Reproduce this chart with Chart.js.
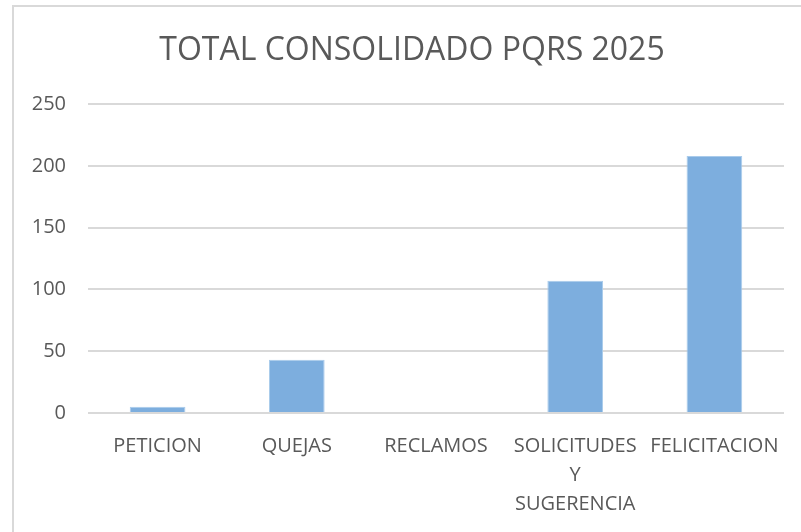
<!DOCTYPE html>
<html>
<head>
<meta charset="utf-8">
<script src="https://cdn.jsdelivr.net/npm/chart.js@4/dist/chart.umd.min.js"></script>
<style>
  html, body { margin: 0; padding: 0; background: #fff; }
  #wrap { position: relative; width: 801px; height: 532px; overflow: hidden; }
  #frame { position: absolute; left: 12px; top: 5px; width: 900px; height: 600px;
           border-left: 2px solid #d9d9d9; border-top: 2px solid #d9d9d9; box-sizing: border-box; }
  canvas { position: absolute; left: 0; top: 0; }
</style>
</head>
<body>
<div id="wrap">
  <div id="frame"></div>
  <canvas id="c" width="801" height="532"></canvas>
</div>
<script>
const titleText = 'TOTAL CONSOLIDADO PQRS 2025';
const categories = ['PETICION', 'QUEJAS', 'RECLAMOS', ['SOLICITUDES', 'Y', 'SUGERENCIA'], 'FELICITACION'];
const values = [5, 43, 0, 107, 208];
const yTicks = [0, 50, 100, 150, 200, 250];

const FONT = "'Open Sans', sans-serif";
const GREY = '#595959';

// Title drawn centred over the whole chart frame (as in the source spreadsheet chart)
const frameTitle = {
  id: 'frameTitle',
  afterDraw(chart) {
    const ctx = chart.ctx;
    ctx.save();
    ctx.font = "normal 32px " + FONT;
    ctx.fillStyle = GREY;
    ctx.textAlign = 'center';
    ctx.textBaseline = 'middle';
    ctx.fillText(titleText, 412, 51);
    ctx.restore();
  }
};

new Chart(document.getElementById('c'), {
  type: 'bar',
  data: {
    labels: categories,
    datasets: [{
      data: values,
      backgroundColor: '#7DAEDE',
      borderColor: '#A9CBEB',
      borderWidth: 1,
      barPercentage: 0.4,
      categoryPercentage: 1.0
    }]
  },
  plugins: [frameTitle],
  options: {
    responsive: false,
    animation: false,
    layout: { padding: { left: 12, right: 17, top: 104, bottom: 8 } },
    plugins: {
      legend: { display: false },
      tooltip: { enabled: false },
      title: { display: false }
    },
    scales: {
      x: {
        grid: { display: false, drawTicks: false },
        border: { display: false },
        ticks: {
          color: GREY,
          font: { family: FONT, size: 20, lineHeight: 1.45 },
          padding: 19,
          maxRotation: 0,
          autoSkip: false
        },
        afterFit: (s) => { s.height = 111; }
      },
      y: {
        min: 0,
        max: 250,
        afterBuildTicks: (s) => { s.ticks = yTicks.map(v => ({ value: v })); },
        grid: { color: '#d9d9d9', lineWidth: 2, drawTicks: false },
        border: { display: false },
        ticks: {
          color: GREY,
          font: { family: FONT, size: 20 },
          padding: 22
        },
        afterFit: (s) => { s.width = 76; }
      }
    }
  }
});
</script>
</body>
</html>
